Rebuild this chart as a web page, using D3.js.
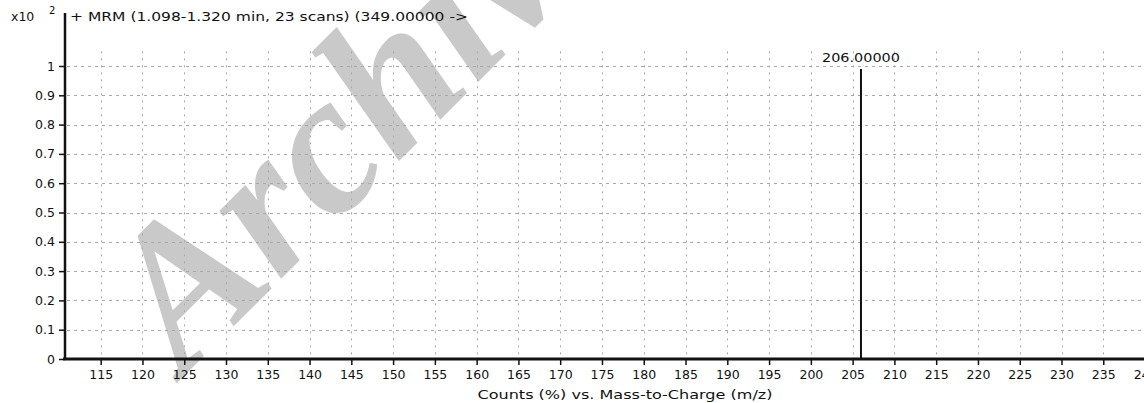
<!DOCTYPE html>
<html>
<head>
<meta charset="utf-8">
<script src="https://cdn.jsdelivr.net/npm/d3@7"></script>
<style>
  html, body { margin: 0; padding: 0; background: #fff; }
  svg { display: block; }
  text { font-family: "DejaVu Sans", sans-serif; fill: #111; }
</style>
</head>
<body>
<svg id="chart" width="1144" height="403"></svg>
<script>
// Spectrum data (m/z vs. relative counts, x10^2)
const peakMz = [206.0];
const peakCounts = [0.99];
const peakLabels = ["206.00000"];
const xTicks = [115, 120, 125, 130, 135, 140, 145, 150, 155, 160, 165, 170, 175, 180, 185, 190, 195, 200, 205, 210, 215, 220, 225, 230, 235, 240];
const yTicks = [0, 0.1, 0.2, 0.3, 0.4, 0.5, 0.6, 0.7, 0.8, 0.9, 1];
const yTickLabels = ["0", "0.1", "0.2", "0.3", "0.4", "0.5", "0.6", "0.7", "0.8", "0.9", "1"];
const titleText = "+ MRM (1.098-1.320 min, 23 scans) (349.00000 ->";
const xAxisTitle = "Counts (%) vs. Mass-to-Charge (m/z)";
const watermarkText = "Archive";

const svg = d3.select("#chart");
const W = 1144, H = 403;
const left = 65, bottom = 359;

const x = d3.scaleLinear().domain([110.73, 242]).range([left, left + 131.27 * 8.355]);
const y = d3.scaleLinear().domain([0, 1]).range([bottom, 66]);

// watermark behind everything
svg.append("text")
  .attr("transform", "translate(184,376) rotate(-45)")
  .style("font-family", "'Liberation Serif', serif")
  .style("font-weight", "bold")
  .style("font-style", "italic")
  .style("font-size", "200px")
  .style("fill", "#c9c9c9")
  .text(watermarkText);

// grid
const grid = svg.append("g");
grid.selectAll("line.h").data(yTicks.slice(1)).join("line")
  .attr("x1", left + 2).attr("x2", W)
  .attr("y1", d => Math.round(y(d)) + 0.5).attr("y2", d => Math.round(y(d)) + 0.5)
  .attr("stroke", "#a8a8a8").attr("stroke-width", 1)
  .attr("stroke-dasharray", "3,4");
grid.selectAll("line.v").data(xTicks).join("line")
  .attr("x1", d => Math.round(x(d)) + 0.5).attr("x2", d => Math.round(x(d)) + 0.5)
  .attr("y1", y(1.05)).attr("y2", bottom - 2)
  .attr("stroke", "#a8a8a8").attr("stroke-width", 1)
  .attr("stroke-dasharray", "2,5");

// x axis
const xAxis = d3.axisBottom(x).tickValues(xTicks).tickSize(6).tickPadding(5).tickFormat(d3.format("d"));
const gx = svg.append("g").attr("transform", `translate(0,${bottom})`).call(xAxis);
gx.select(".domain").remove();
gx.selectAll(".tick line").attr("stroke", "#111").attr("stroke-width", 1.5);
gx.selectAll(".tick text").style("font-size", "12.5px").style("font-family", "'DejaVu Sans', sans-serif").attr("fill", "#111");
svg.append("line").attr("x1", left - 2).attr("x2", W).attr("y1", bottom).attr("y2", bottom)
  .attr("stroke", "#111").attr("stroke-width", 3);

// y axis
const yAxis = d3.axisLeft(y).tickValues(yTicks).tickSize(6).tickPadding(4).tickFormat((d, i) => yTickLabels[i]);
const gy = svg.append("g").attr("transform", `translate(${left},0)`).call(yAxis);
gy.select(".domain").remove();
gy.selectAll(".tick line").attr("stroke", "#111").attr("stroke-width", 1.5);
gy.selectAll(".tick text").style("font-size", "12.5px").style("font-family", "'DejaVu Sans', sans-serif").attr("fill", "#111");
svg.append("line").attr("x1", left).attr("x2", left).attr("y1", 13).attr("y2", bottom + 1)
  .attr("stroke", "#111").attr("stroke-width", 2.5);

// peaks
svg.selectAll("line.peak").data(peakMz).join("line")
  .attr("x1", d => x(d)).attr("x2", d => x(d))
  .attr("y1", y(0)).attr("y2", (d, i) => y(peakCounts[i]))
  .attr("stroke", "#111").attr("stroke-width", 2);
svg.selectAll("text.peak").data(peakMz).join("text")
  .attr("x", d => x(d)).attr("y", (d, i) => y(peakCounts[i]) - 7)
  .attr("text-anchor", "middle")
  .style("font-size", "11.5px")
  .attr("textLength", 78).attr("lengthAdjust", "spacingAndGlyphs")
  .text((d, i) => peakLabels[i]);

// header
svg.append("text").attr("x", 11).attr("y", 21).style("font-size", "12.5px").text("x10");
svg.append("text").attr("x", 49).attr("y", 14).style("font-size", "10px").text("2");
svg.append("text").attr("x", 70).attr("y", 21).style("font-size", "12px")
  .attr("textLength", 398).attr("lengthAdjust", "spacingAndGlyphs")
  .text(titleText);

// x axis title
svg.append("text").attr("x", 625).attr("y", 399).attr("text-anchor", "middle")
  .style("font-size", "12px")
  .attr("textLength", 295).attr("lengthAdjust", "spacingAndGlyphs")
  .text(xAxisTitle);
</script>
</body>
</html>
